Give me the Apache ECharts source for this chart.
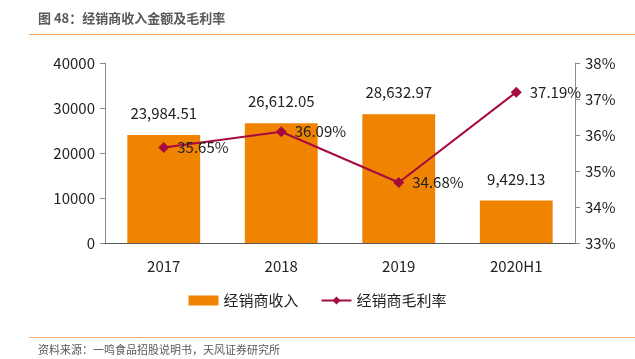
<!DOCTYPE html>
<html>
<head>
<meta charset="utf-8">
<script src="https://cdn.jsdelivr.net/npm/echarts@6/dist/echarts.min.js"></script>
<style>
html,body{margin:0;padding:0;background:#fff;}
#c{width:635px;height:359px;}
</style>
</head>
<body>
<div id="c"></div>
<script>
var categories = ['2017', '2018', '2019', '2020H1'];
var revenue = [23984.51, 26612.05, 28632.97, 9429.13];
var margin = [35.65, 36.09, 34.68, 37.19];
var leftTicks = [0, 10000, 20000, 30000, 40000];
var rightTicks = [33, 34, 35, 36, 37, 38];

var FONT = '"Noto Sans CJK SC", "Noto Sans", sans-serif';
var chart = echarts.init(document.getElementById('c'));
chart.setOption({
  animation: false,
  textStyle: {fontFamily: FONT},
  graphic: [
    {type: 'text', left: 38, top: 12, style: {text: '图 48：经销商收入金额及毛利率', fontSize: 13, fontWeight: 'bold', fill: '#595959', fontFamily: FONT}},
    {type: 'rect', shape: {x: 29, y: 34, width: 606, height: 1}, style: {fill: '#F0A15A'}},
    {type: 'rect', shape: {x: 29, y: 337, width: 606, height: 1}, style: {fill: '#F7B27A'}},
    {type: 'text', left: 38, top: 344, style: {text: '资料来源：一鸣食品招股说明书，天风证券研究所', fontSize: 11, fill: '#595959', fontFamily: FONT}}
  ],
  legend: {
    bottom: 46,
    left: 'center',
    itemGap: 22,
    itemWidth: 30,
    itemHeight: 10,
    textStyle: {fontSize: 15, color: '#222', fontFamily: FONT},
    data: [
      {name: '经销商收入', icon: 'rect'},
      {name: '经销商毛利率'}
    ]
  },
  grid: {left: 105, right: 60, top: 63, bottom: 116, containLabel: false},
  xAxis: {
    type: 'category',
    data: categories,
    axisLine: {lineStyle: {color: '#595959', width: 1}},
    axisTick: {show: false},
    axisLabel: {fontSize: 15, color: '#222', margin: 16}
  },
  yAxis: [
    {
      type: 'value', min: leftTicks[0], max: leftTicks[leftTicks.length - 1], interval: leftTicks[1] - leftTicks[0],
      axisLine: {show: true, lineStyle: {color: '#8c8c8c'}},
      axisTick: {show: true, inside: false, length: 5, lineStyle: {color: '#8c8c8c'}},
      splitLine: {show: false},
      axisLabel: {fontSize: 15, color: '#222', margin: 10, formatter: function (v) { return String(v); }}
    },
    {
      type: 'value', min: rightTicks[0], max: rightTicks[rightTicks.length - 1], interval: 1,
      position: 'right',
      axisLine: {show: true, lineStyle: {color: '#8c8c8c'}},
      axisTick: {show: true, inside: false, length: 5, lineStyle: {color: '#8c8c8c'}},
      splitLine: {show: false},
      axisLabel: {fontSize: 15, color: '#222', margin: 10, formatter: '{value}%'}
    }
  ],
  series: [
    {
      name: '经销商收入',
      type: 'bar',
      data: revenue,
      barWidth: '62%',
      itemStyle: {color: '#F08300'},
      label: {
        show: true, position: 'top', distance: 14, fontSize: 15, color: '#222',
        formatter: function (p) { return p.value.toLocaleString('en-US', {minimumFractionDigits: 2, maximumFractionDigits: 2}); }
      }
    },
    {
      name: '经销商毛利率',
      type: 'line',
      yAxisIndex: 1,
      data: margin,
      symbol: 'diamond',
      symbolSize: 11,
      lineStyle: {color: '#A50B3E', width: 2},
      itemStyle: {color: '#A50B3E'},
      label: {
        show: true, position: 'right', distance: 8, fontSize: 15, color: '#222',
        formatter: function (p) { return p.value.toFixed(2) + '%'; }
      }
    }
  ]
});
</script>
</body>
</html>
